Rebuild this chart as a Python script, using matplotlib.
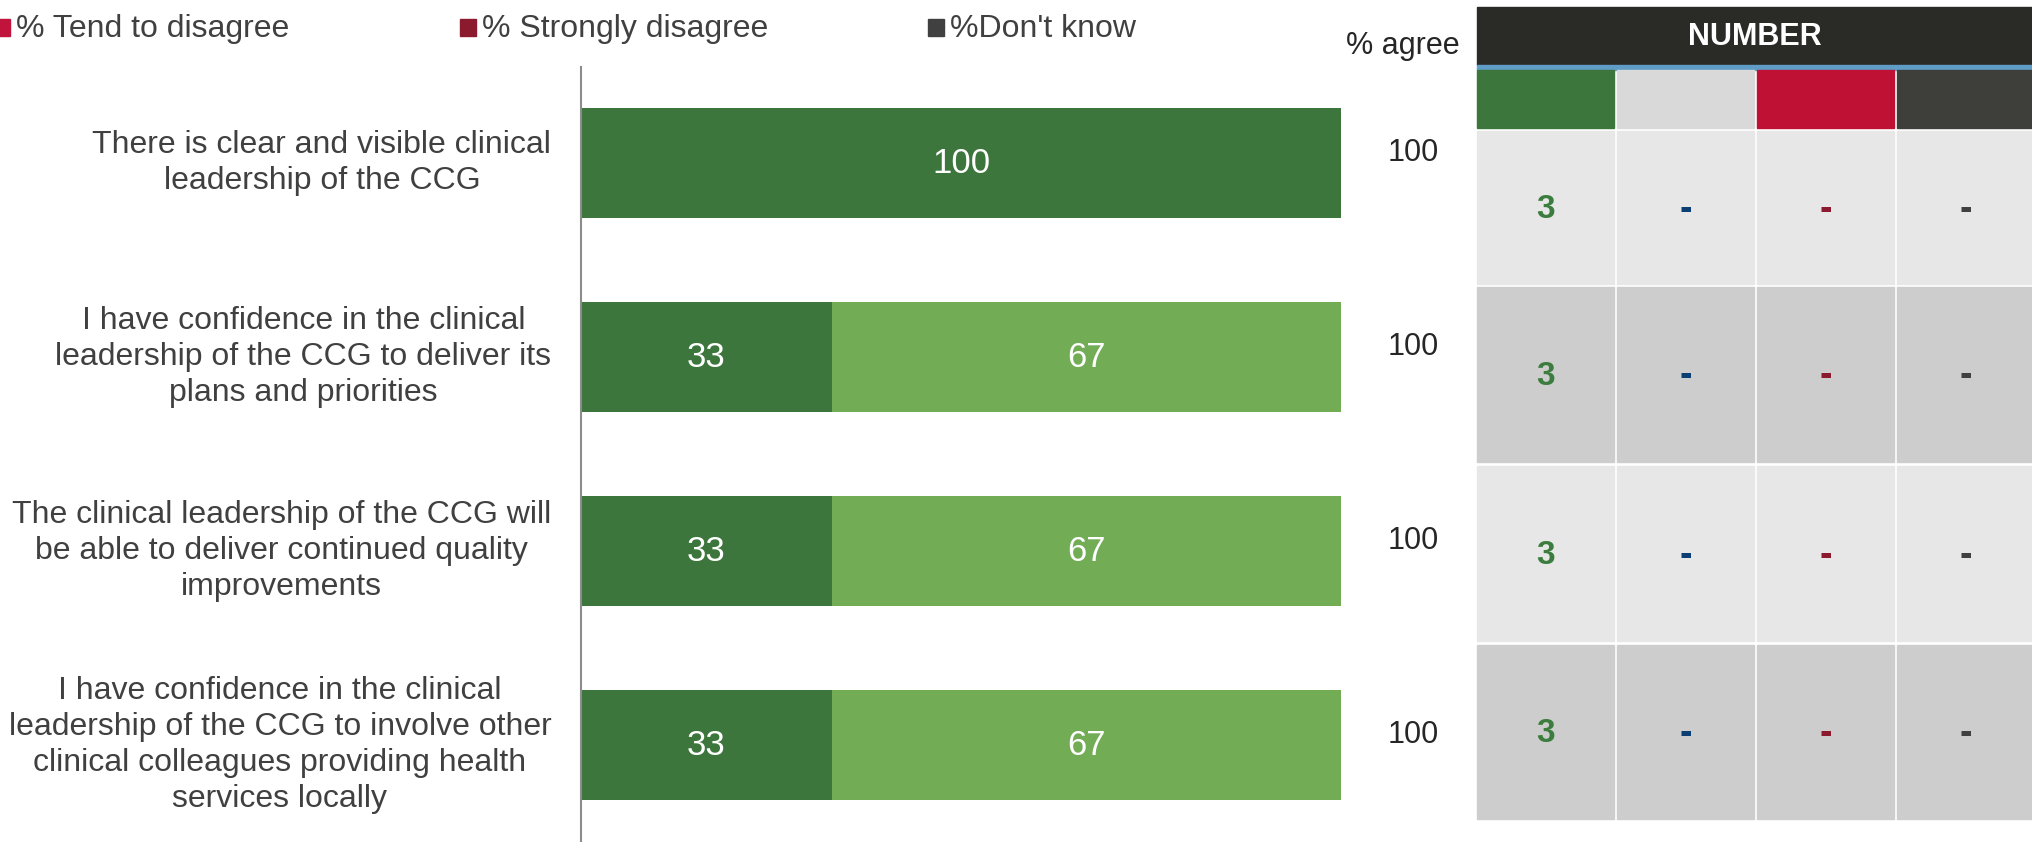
import numpy as np
import matplotlib.pyplot as plt
from matplotlib.patches import Rectangle

plt.rcParams['font.family'] = ['Liberation Sans', 'DejaVu Sans']

statements = [
    'There is clear and visible clinical\nleadership of the CCG',
    'I have confidence in the clinical\nleadership of the CCG to deliver its\nplans and priorities',
    'The clinical leadership of the CCG will\nbe able to deliver continued quality\nimprovements',
    'I have confidence in the clinical\nleadership of the CCG to involve other\nclinical colleagues providing health\nservices locally',
]
strongly_agree = [100, 33, 33, 33]
tend_to_agree = [0, 67, 67, 67]
pct_agree = [100, 100, 100, 100]

num_agree = ['3', '3', '3', '3']
num_neither = ['-', '-', '-', '-']
num_disagree = ['-', '-', '-', '-']
num_dont_know = ['-', '-', '-', '-']

legend_labels = ['% Tend to disagree', '% Strongly disagree', "%Don't know"]
legend_colors = ['#C0143C', '#8B1A2E', '#404040']

dark_green = '#3C763C'
light_green = '#72AD56'
text_col = '#404040'

W, H = 2033, 842
fig = plt.figure(figsize=(W / 100, H / 100), dpi=100)

# overlay in pixel units for legend and number table
lay = fig.add_axes([0, 0, 1, 1])
lay.set_xlim(0, W)
lay.set_ylim(H, 0)
lay.axis('off')

# main bar axes
x0, x1 = 581, 1341
y_top = 67
ax = fig.add_axes([x0 / W, 0, (x1 - x0) / W, (H - y_top) / H])
y = np.arange(len(statements))
ax.set_xlim(0, 100)
ax.set_ylim(3.5, -0.495)
bh = 110 / 194
b1 = ax.barh(y, strongly_agree, height=bh, color=dark_green)
b2 = ax.barh(y, tend_to_agree, left=strongly_agree, height=bh, color=light_green)
ax.bar_label(b1, labels=[str(v) if v else '' for v in strongly_agree],
             label_type='center', color='white', fontsize=25)
ax.bar_label(b2, labels=[str(v) if v else '' for v in tend_to_agree],
             label_type='center', color='white', fontsize=25)
for s in ['top', 'right', 'bottom']:
    ax.spines[s].set_visible(False)
ax.spines['left'].set_color('#8C8C8C')
ax.spines['left'].set_linewidth(1.5)
ax.set_xticks([])
ax.set_yticks([])

for i, lab in enumerate(statements):
    ax.text(-3.9, i, lab, ha='right', va='center', multialignment='center',
            fontsize=23, color=text_col, linespacing=1.27)
    ax.text(109.5, i - 0.05, str(pct_agree[i]), ha='center', va='center',
            fontsize=22, color='#262626')

lay.text(1403, 46, '% agree', ha='center', va='center', fontsize=22, color='#262626')

# legend row (first item partly cut off at the left edge)
leg_x = [-6, 460, 928]
for lx, lab, c in zip(leg_x, legend_labels, legend_colors):
    lay.add_patch(Rectangle((lx, 19), 16, 17, color=c))
    lay.text(lx + 22, 29, lab, ha='left', va='center', fontsize=23, color=text_col)

# number table
tx = 1477
col_w, gap = 137, 3
col_x = [tx + k * (col_w + gap) for k in range(4)]
lay.add_patch(Rectangle((tx, 7), W - tx, 58, color='#2A2A26'))
lay.add_patch(Rectangle((tx, 65), W - tx, 5, color='#5F9DC6'))
lay.text((tx + W) / 2, 37, 'NUMBER', ha='center', va='center', fontsize=22,
         fontweight='bold', color='white')
head_cols = [dark_green, '#D9D9D9', '#BE1134', '#3E3E3A']
for cx, c in zip(col_x, head_cols):
    lay.add_patch(Rectangle((cx, 70), col_w, 58, color=c))

row_y = [131, 287, 466, 645]
row_h = [153, 175, 175, 174]
row_bg = ['#E7E7E7', '#CDCDCD', '#E7E7E7', '#CDCDCD']
val_cols = [num_agree, num_neither, num_disagree, num_dont_know]
val_colors = ['#3A7D3E', '#0B3F73', '#8B1A2E', '#404040']
for r in range(len(statements)):
    for k, cx in enumerate(col_x):
        lay.add_patch(Rectangle((cx, row_y[r]), col_w, row_h[r], color=row_bg[r]))
        v = val_cols[k][r]
        lay.text(cx + col_w / 2, row_y[r] + row_h[r] / 2 + 2, v,
                 ha='center', va='center', fontsize=24 if v != '-' else 27,
                 fontweight='bold', color=val_colors[k])

fig.savefig('out.png', dpi=100)
